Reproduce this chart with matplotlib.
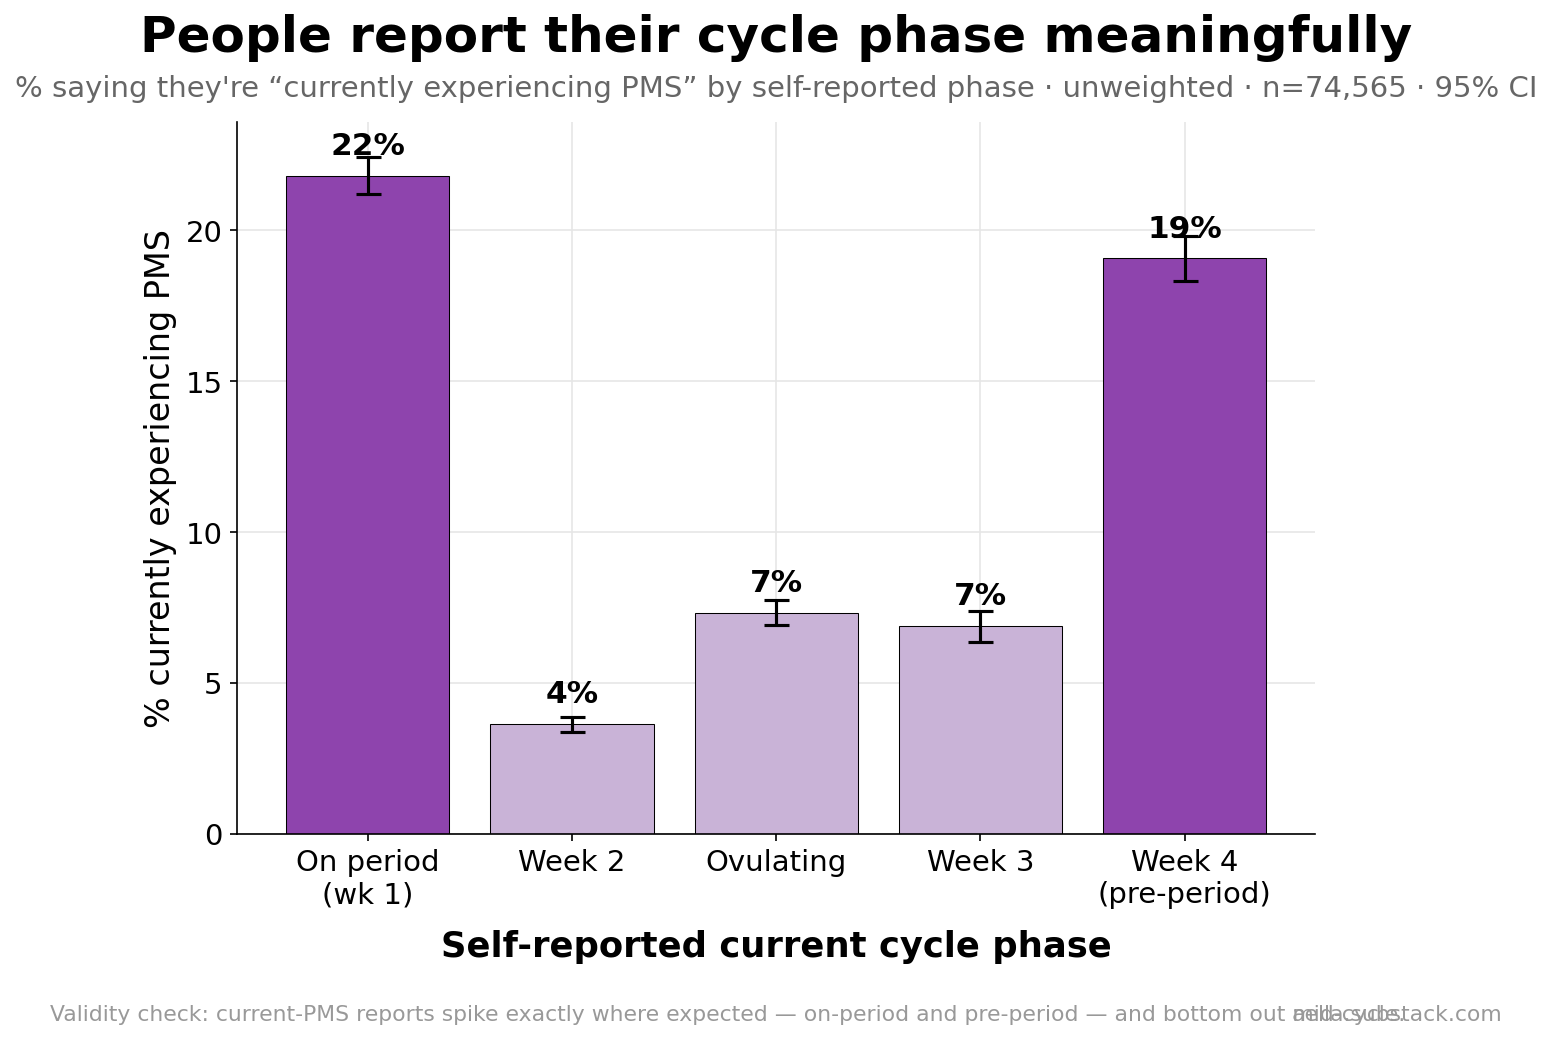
import matplotlib.pyplot as plt

# data
phases = ["On period\n(wk 1)", "Week 2", "Ovulating", "Week 3", "Week 4\n(pre-period)"]
pct = [21.8, 3.64, 7.32, 6.89, 19.07]
ci_lo = [21.19, 3.38, 6.92, 6.36, 18.31]
ci_hi = [22.42, 3.87, 7.75, 7.38, 19.80]
highlight = [True, False, False, False, True]

dark = "#8E44AD"
light = "#C9B3D7"
colors = [dark if h else light for h in highlight]

fig = plt.figure(figsize=(10.35, 6.93), dpi=150)
ax = fig.add_axes([0.1527, 0.1973, 0.6946, 0.6853])

x = range(len(phases))
yerr = [[p - lo for p, lo in zip(pct, ci_lo)], [hi - p for p, hi in zip(pct, ci_hi)]]
ax.bar(x, pct, width=0.8, color=colors, edgecolor="black", linewidth=0.5, zorder=2)
ax.errorbar(x, pct, yerr=yerr, fmt="none", ecolor="black", elinewidth=1.5,
            capsize=6, capthick=1.5, zorder=3)

for i, v in enumerate(pct):
    ax.text(i, v + 0.5, f"{v:.0f}%", ha="center", va="bottom",
            fontsize=15, fontweight="bold", zorder=4)

ax.set_xticks(list(x))
ax.set_xticklabels(phases, fontsize=14)
ax.tick_params(axis="y", labelsize=14)
ax.set_ylim(0, 23.6)
ax.set_ylabel("% currently experiencing PMS", fontsize=16)
ax.set_xlabel("Self-reported current cycle phase", fontsize=17, fontweight="bold", labelpad=10)
ax.grid(True, color="#e6e6e6", linewidth=0.8, zorder=0)
ax.set_axisbelow(True)
ax.spines["top"].set_visible(False)
ax.spines["right"].set_visible(False)

fig.text(0.5, 0.963, "People report their cycle phase meaningfully",
         ha="center", va="center", fontsize=24, fontweight="bold")
fig.text(0.5, 0.914, "% saying they're \u201ccurrently experiencing PMS\u201d by self-reported phase \u00b7 unweighted \u00b7 n=74,565 \u00b7 95% CI",
         ha="center", va="center", fontsize=14, color="#666666")
fig.text(0.032, 0.024, "Validity check: current-PMS reports spike exactly where expected \u2014 on-period and pre-period \u2014 and bottom out mid-cycle.",
         ha="left", va="center", fontsize=10.5, color="#999999")
fig.text(0.968, 0.024, "aella.substack.com", ha="right", va="center", fontsize=10.5, color="#999999")

fig.savefig("out.png", dpi=150)
